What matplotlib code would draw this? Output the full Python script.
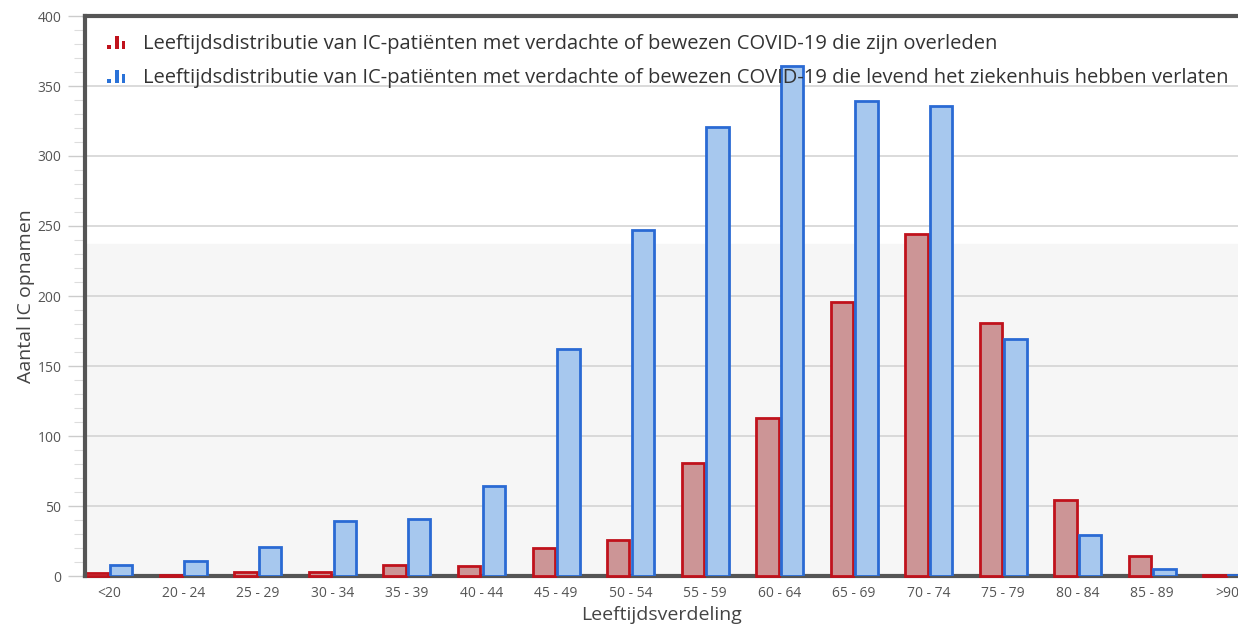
import matplotlib
matplotlib.use("Agg")
import matplotlib.pyplot as plt
import numpy as np
from matplotlib.patches import Rectangle
from matplotlib.legend_handler import HandlerBase
from matplotlib.ticker import MultipleLocator

categories = ["<20", "20 - 24", "25 - 29", "30 - 34", "35 - 39", "40 - 44", "45 - 49",
              "50 - 54", "55 - 59", "60 - 64", "65 - 69", "70 - 74", "75 - 79",
              "80 - 84", "85 - 89", ">90"]
overleden = [2, 1, 3, 3, 8, 7, 20, 26, 81, 113, 196, 244, 181, 54, 14, 1]
levend = [8, 11, 21, 39, 41, 64, 162, 247, 321, 364, 339, 336, 169, 29, 5, 1]
label_overleden = "Leeftijdsdistributie van IC-patiënten met verdachte of bewezen COVID-19 die zijn overleden"
label_levend = "Leeftijdsdistributie van IC-patiënten met verdachte of bewezen COVID-19 die levend het ziekenhuis hebben verlaten"

plt.rcParams['font.family'] = ['Open Sans', 'DejaVu Sans']

W, H = 1238, 632
fig = plt.figure(figsize=(W / 100, H / 100), dpi=100)
ax = fig.add_axes([85 / W, 56 / H, 1 - 85 / W, (576 - 16) / H])

x = np.arange(len(categories))
bw = 0.30
red_fill, red_edge = "#cc9596", "#c0121c"
blue_fill, blue_edge = "#a7c8ee", "#2a6ad4"

ax.axhspan(0, 237, color="#f6f6f6", zorder=0)
for v in range(50, 400, 50):
    ax.axhline(v, color="#d4d4d4", lw=1.2, zorder=1)

ax.bar(x - bw / 2 - 0.015, overleden, width=bw, color=red_fill, edgecolor=red_edge,
       linewidth=2, zorder=6, label=label_overleden, clip_on=False)
ax.bar(x + bw / 2 + 0.015, levend, width=bw, color=blue_fill, edgecolor=blue_edge,
       linewidth=2, zorder=6, label=label_levend)

ax.set_xlim(-0.32, 15.15)
ax.set_ylim(0, 400)
ax.set_xticks(x)
ax.set_xticklabels(categories, fontsize=10, color="#555555")
ax.yaxis.set_major_locator(MultipleLocator(50))
ax.yaxis.set_minor_locator(MultipleLocator(10))
ax.tick_params(axis="y", which="major", length=12, width=1, color="#cccccc",
               labelsize=10, labelcolor="#555555", pad=5)
ax.tick_params(axis="y", which="minor", length=8, width=0.8, color="#dddddd")
ax.tick_params(axis="x", length=0, pad=7)

for side in ["left", "top", "bottom"]:
    ax.spines[side].set_color("#555555")
    ax.spines[side].set_linewidth(3)
ax.spines["right"].set_visible(False)
ax.spines["left"].set_zorder(7)
ax.spines["bottom"].set_zorder(4)

ax.set_ylabel("Aantal IC opnamen", fontsize=14, color="#444444", labelpad=2)
ax.set_xlabel("Leeftijdsverdeling", fontsize=14, color="#444444", labelpad=4)


class BarIcon(HandlerBase):
    def __init__(self, col):
        super().__init__()
        self.col = col

    def create_artists(self, legend, orig_handle, xdescent, ydescent, width, height, fontsize, trans):
        arts = []
        specs = [(0.0, 0.18, 0.3), (0.40, 0.2, 1.0), (0.75, 0.2, 0.65)]
        for fx, fw, fh in specs:
            r = Rectangle((xdescent + fx * width, ydescent),
                          fw * width, fh * height,
                          facecolor=self.col, edgecolor="none", transform=trans)
            arts.append(r)
        return arts


h1 = Rectangle((0, 0), 1, 1)
h2 = Rectangle((0, 0), 1, 1)
leg = ax.legend([h1, h2], [label_overleden, label_levend],
                handler_map={h1: BarIcon("#c0121c"), h2: BarIcon("#2a72d8")},
                loc="upper left", bbox_to_anchor=(0.007, 0.993), frameon=False,
                fontsize=14.5, handlelength=0.95, handleheight=0.65,
                handletextpad=0.85, labelspacing=0.68, borderaxespad=0.3)
for t in leg.get_texts():
    t.set_color("#333333")
leg.set_zorder(8)

fig.savefig("out.png", dpi=100)
